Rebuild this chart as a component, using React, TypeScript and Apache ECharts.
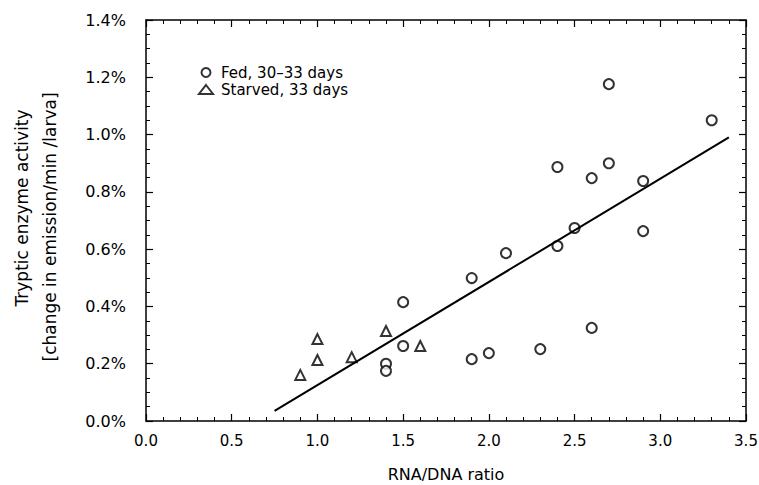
import React, { useEffect, useRef } from "react";
import * as echarts from "echarts";

const fedX = [1.4, 1.4, 1.5, 1.5, 1.9, 1.9, 2.0, 2.1, 2.3, 2.4, 2.4, 2.5, 2.6, 2.6, 2.7, 2.7, 2.9, 2.9, 3.3];
const fedY = [0.2, 0.175, 0.415, 0.262, 0.499, 0.216, 0.237, 0.586, 0.251, 0.887, 0.611, 0.674, 0.848, 0.325, 1.176, 0.9, 0.838, 0.663, 1.05];
const starvedX = [0.9, 1.0, 1.0, 1.2, 1.4, 1.6];
const starvedY = [0.161, 0.286, 0.213, 0.223, 0.314, 0.262];
const fitX = [0.75, 3.4];
const fitY = [0.035, 0.99];

const FONT = "DejaVu Sans";

export default function App() {
  const ref = useRef<HTMLDivElement>(null);
  useEffect(() => {
    const chart = echarts.init(ref.current!, null, { renderer: "svg" });
    const axisCommon = {
      type: "value" as const,
      axisLine: { show: true, onZero: false, lineStyle: { color: "#000", width: 1.5 } },
      axisTick: { show: true, inside: true, length: 7, lineStyle: { color: "#000", width: 1.2 } },
      minorTick: { show: true, length: 4, lineStyle: { color: "#000", width: 1 } },
      splitLine: { show: false },
    };
    chart.setOption({
      animation: false,
      backgroundColor: "#fff",
      grid: { left: 146, right: 13, top: 20, bottom: 64, outerBoundsMode: "none", containLabel: false },
      legend: {
        orient: "vertical",
        left: 193,
        top: 60,
        itemGap: 2,
        itemWidth: 14,
        itemHeight: 9,
        textStyle: { fontFamily: FONT, fontSize: 15, color: "#000", padding: [0, 0, 0, 3] },
        data: ["Fed, 30–33 days", "Starved, 33 days"],
      },
      xAxis: [
        {
          ...axisCommon,
          min: 0,
          max: 3.5,
          interval: 0.5,
          minorTick: { ...axisCommon.minorTick, splitNumber: 5 },
          axisLabel: {
            fontFamily: FONT,
            fontSize: 15,
            color: "#000",
            margin: 12,
            formatter: (v: number) => v.toFixed(1),
          },
          name: "RNA/DNA ratio",
          nameLocation: "middle",
          nameGap: 45,
          nameTextStyle: { fontFamily: FONT, fontSize: 16, color: "#000" },
        },
        {
          ...axisCommon,
          position: "top",
          min: 0,
          max: 3.5,
          interval: 0.5,
          minorTick: { ...axisCommon.minorTick, splitNumber: 5 },
          axisLabel: { show: false },
        },
      ],
      yAxis: [
        {
          ...axisCommon,
          min: 0,
          max: 1.4,
          interval: 0.2,
          minorTick: { ...axisCommon.minorTick, splitNumber: 4 },
          axisLabel: {
            fontFamily: FONT,
            fontSize: 16,
            color: "#000",
            margin: 20,
            formatter: (v: number) => v.toFixed(1) + "%",
          },
        },
        {
          ...axisCommon,
          position: "right",
          min: 0,
          max: 1.4,
          interval: 0.2,
          minorTick: { ...axisCommon.minorTick, splitNumber: 4 },
          axisLabel: { show: false },
        },
      ],
      graphic: [
        {
          type: "text",
          x: 22,
          y: 208,
          rotation: Math.PI / 2,
          style: {
            text: "Tryptic enzyme activity",
            fontFamily: FONT,
            fontSize: 17,
            fill: "#000",
            align: "center",
            verticalAlign: "middle",
          },
        },
        {
          type: "text",
          x: 50,
          y: 227,
          rotation: Math.PI / 2,
          style: {
            text: "[change in emission/min /larva]",
            fontFamily: FONT,
            fontSize: 17,
            fill: "#000",
            align: "center",
            verticalAlign: "middle",
          },
        },
      ],
      series: [
        {
          name: "Fed, 30–33 days",
          type: "scatter",
          symbol: "emptyCircle",
          symbolSize: 10,
          itemStyle: { color: "#000", borderWidth: 2 },
          data: fedX.map((x, i) => [x, fedY[i]]),
        },
        {
          name: "Starved, 33 days",
          type: "scatter",
          symbol: "emptyTriangle",
          symbolSize: 10,
          itemStyle: { color: "#000", borderWidth: 2 },
          data: starvedX.map((x, i) => [x, starvedY[i]]),
        },
        {
          name: "fit",
          type: "line",
          symbol: "none",
          lineStyle: { color: "#000", width: 2 },
          data: fitX.map((x, i) => [x, fitY[i]]),
        },
      ],
    });
    return () => chart.dispose();
  }, []);
  return <div ref={ref} style={{ width: 759, height: 485, position: "absolute", left: 0, top: 0 }} />;
}
